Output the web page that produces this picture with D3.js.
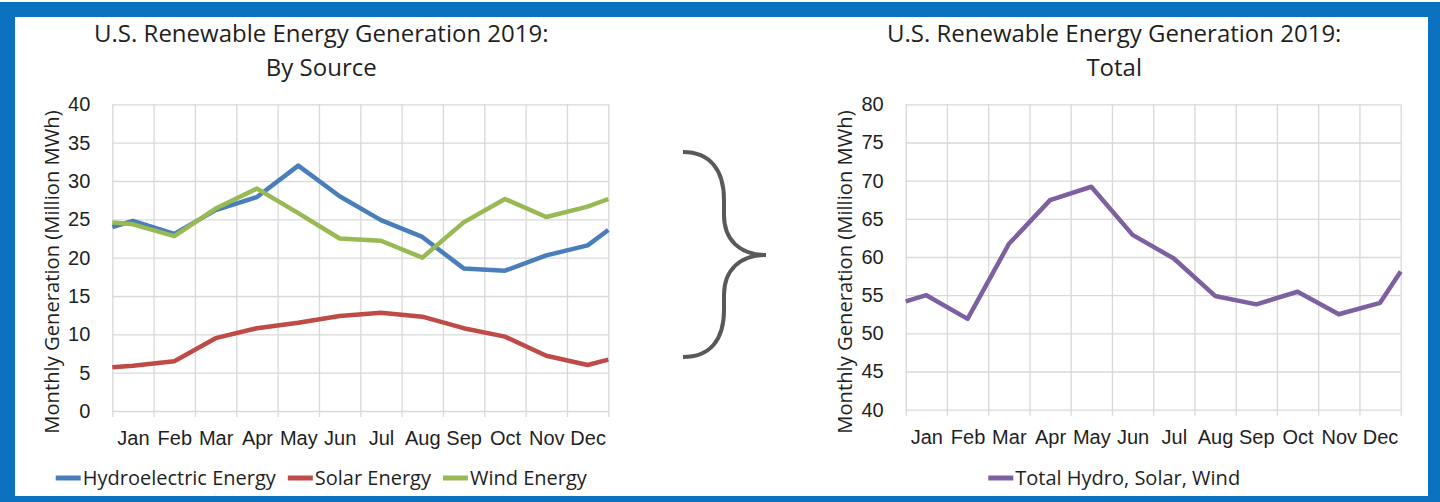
<!DOCTYPE html>
<html>
<head>
<meta charset="utf-8">
<script src="https://cdn.jsdelivr.net/npm/d3@7"></script>
<style>
  body { margin: 0; background: #fff; }
  svg { display: block; font-family: "Open Sans", sans-serif; }
</style>
</head>
<body>
<svg width="1440" height="502"></svg>
<script>
const months = ["Jan", "Feb", "Mar", "Apr", "May", "Jun", "Jul", "Aug", "Sep", "Oct", "Nov", "Dec"];

// million MWh
const hydro = [24.8, 23.1, 26.2, 27.9, 32.0, 28.0, 24.9, 22.7, 18.6, 18.3, 20.3, 21.6];
const solar = [5.9, 6.5, 9.5, 10.8, 11.5, 12.4, 12.8, 12.3, 10.8, 9.7, 7.2, 6.0];
const wind = [24.35, 22.8, 26.4, 29.0, 25.8, 22.5, 22.2, 20.0, 24.6, 27.65, 25.3, 26.65];
const total = [55.0, 51.9, 61.7, 67.45, 69.2, 62.9, 59.8, 54.9, 53.8, 55.45, 52.5, 54.0];

// where each line meets the left and right edge of its plot
const hydroEdges = [24.0, 23.6];
const solarEdges = [5.7, 6.7];
const windEdges = [24.6, 27.65];
const totalEdges = [54.2, 58.1];

const leftTicks = d3.range(0, 41, 5);
const rightTicks = d3.range(40, 81, 5);

const svg = d3.select("svg");
const gridColor = "#d9d9d9",
      textColor = "#1f1f1f";

// frame
svg.append("rect").attr("x", 0).attr("y", 2).attr("width", 1440).attr("height", 500).attr("fill", "#0a72be");
svg.append("rect").attr("x", 15).attr("y", 17).attr("width", 1413).attr("height", 479).attr("fill", "#fff");

function drawChart(o) {
    const x = d3.scaleLinear().domain([-0.5, 11.5]).range([o.left, o.right]);
    const y = d3.scaleLinear().domain(d3.extent(o.ticks)).range([o.bottom, o.top]);
    const g = svg.append("g");

    // horizontal grid + value labels
    const yAxis = g.append("g")
        .attr("transform", `translate(${o.left},0)`)
        .call(d3.axisLeft(y).tickValues(o.ticks).tickSize(-(o.right - o.left)).tickPadding(22));
    yAxis.select(".domain").remove();
    yAxis.selectAll("line").attr("stroke", gridColor).attr("stroke-width", 1.3);
    yAxis.selectAll("text").attr("fill", textColor).style("font-size", "20px");

    // vertical grid, running a little below the axis as tick marks
    const xGrid = g.append("g")
        .attr("transform", `translate(0,${o.bottom})`)
        .call(d3.axisBottom(x).tickValues(d3.range(-0.5, 12, 1)).tickSize(-(o.bottom - o.top)).tickFormat(""));
    xGrid.select(".domain").remove();
    xGrid.selectAll("line").attr("y1", 6).attr("stroke", gridColor).attr("stroke-width", 1.3);

    // month labels
    const xAxis = g.append("g")
        .attr("transform", `translate(0,${o.bottom})`)
        .call(d3.axisBottom(x).tickValues(d3.range(12)).tickFormat(i => months[i]).tickSize(0).tickPadding(20));
    xAxis.select(".domain").remove();
    xAxis.selectAll("text").attr("fill", textColor).style("font-size", "20px");

    // series
    const line = d3.line().x(d => x(d.i)).y(d => y(d.v));
    o.series.forEach(s => {
        const pts = [{i: -0.5, v: s.edges[0]}]
            .concat(s.values.map((v, i) => ({i: i, v: v})))
            .concat([{i: 11.5, v: s.edges[1]}]);
        g.append("path")
            .datum(pts)
            .attr("d", line)
            .attr("fill", "none")
            .attr("stroke", s.color)
            .attr("stroke-width", 4.5)
            .attr("stroke-linejoin", "round");
    });

    // titles
    const cx = (o.left + o.right) / 2 + o.titleShift;
    const title = g.append("text")
        .attr("text-anchor", "middle")
        .attr("fill", textColor)
        .style("font-size", "24px");
    title.append("tspan").attr("x", cx).attr("y", 41.5).text("U.S. Renewable Energy Generation 2019:");
    title.append("tspan").attr("x", cx).attr("y", 76).text(o.subtitle);

    g.append("text")
        .attr("transform", `translate(${o.axisTitleX},272) rotate(-90)`)
        .attr("text-anchor", "middle")
        .attr("dy", "0.35em")
        .attr("fill", textColor)
        .style("font-size", "20.2px")
        .text("Monthly Generation (Million MWh)");

    // legend, centred under the plot
    const legend = g.append("g");
    let pos = 0;
    o.series.forEach(s => {
        const item = legend.append("g").attr("transform", `translate(${pos},0)`);
        item.append("line").attr("x1", 0).attr("x2", 25).attr("y1", 0).attr("y2", 0)
            .attr("stroke", s.color).attr("stroke-width", 5);
        const t = item.append("text").attr("x", 27).attr("y", 7)
            .attr("fill", textColor).style("font-size", "20px").text(s.name);
        pos += 27 + t.node().getComputedTextLength() + 12;
    });
    pos -= 12;
    legend.attr("transform", `translate(${cx - pos / 2},478)`);
}

drawChart({
    left: 112.3, right: 608.3, top: 104.3, bottom: 411,
    ticks: leftTicks, subtitle: "By Source", titleShift: -39, axisTitleX: 52,
    series: [
        {name: "Hydroelectric Energy", values: hydro, edges: hydroEdges, color: "#4a7ebb"},
        {name: "Solar Energy", values: solar, edges: solarEdges, color: "#be4b48"},
        {name: "Wind Energy", values: wind, edges: windEdges, color: "#98b954"}
    ]
});

drawChart({
    left: 905.7, right: 1400.7, top: 104.3, bottom: 409.7,
    ticks: rightTicks, subtitle: "Total", titleShift: -39, axisTitleX: 845,
    series: [
        {name: "Total Hydro, Solar, Wind", values: total, edges: totalEdges, color: "#7d60a0"}
    ]
});

// brace joining the two charts
svg.append("path")
    .attr("d", "M683,152 C710,152 724,170 724,200 L724,215 C724,240 740,255 766,255 " +
               "C740,255 724,270 724,295 L724,310 C724,340 710,357 683,357")
    .attr("fill", "none")
    .attr("stroke", "#595959")
    .attr("stroke-width", 4);
</script>
</body>
</html>
